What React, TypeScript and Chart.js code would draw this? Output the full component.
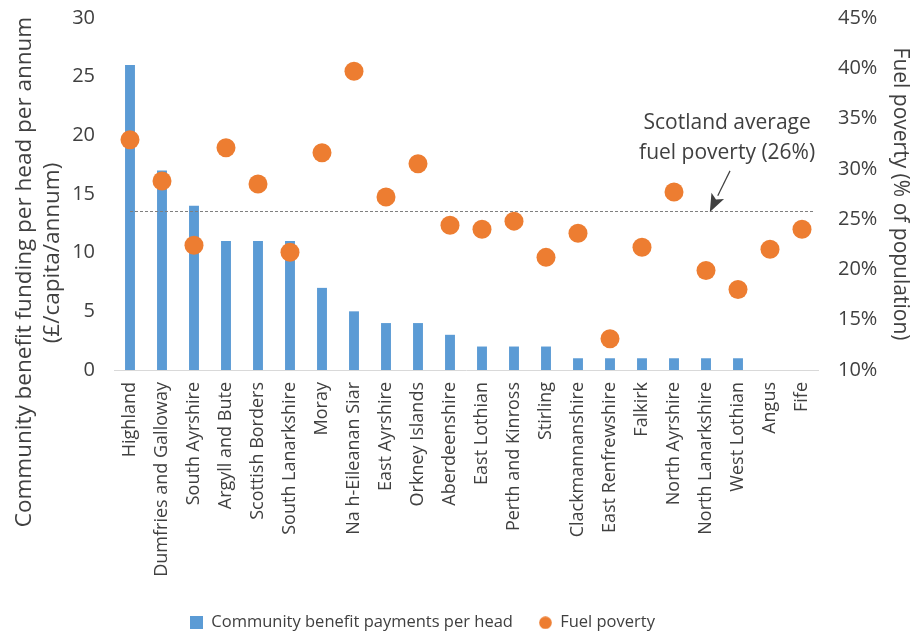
import { useEffect, useRef } from "react";
import { Chart, registerables } from "chart.js";

Chart.register(...registerables);

const categories = [
  "Highland",
  "Dumfries and Galloway",
  "South Ayrshire",
  "Argyll and Bute",
  "Scottish Borders",
  "South Lanarkshire",
  "Moray",
  "Na h-Eileanan Siar",
  "East Ayrshire",
  "Orkney Islands",
  "Aberdeenshire",
  "East Lothian",
  "Perth and Kinross",
  "Stirling",
  "Clackmannanshire",
  "East Renfrewshire",
  "Falkirk",
  "North Ayrshire",
  "North Lanarkshire",
  "West Lothian",
  "Angus",
  "Fife",
];

const benefitPerHead = [26, 17, 14, 11, 11, 11, 7, 5, 4, 4, 3, 2, 2, 2, 1, 1, 1, 1, 1, 1, 0, 0];

const fuelPoverty = [
  32.9, 28.8, 22.4, 32.1, 28.5, 21.7, 31.6, 39.7, 27.2, 30.5, 24.4, 24.0, 24.8, 21.2, 23.6, 13.1,
  22.2, 27.7, 19.9, 18.0, 22.0, 24.0,
];

const leftAxis = { min: 0, max: 30, step: 5 };
const rightAxis = { min: 10, max: 45, step: 5 };

const leftTitle = ["Community benefit funding per head per annum", "(£/capita/annum)"];
const rightTitle = "Fuel poverty (% of population)";

const scotlandAverage = 25.85;
const annotationText = ["Scotland average", "fuel poverty (26%)"];

const BLUE = "#5B9BD5";
const ORANGE = "#ED7D31";
const TEXT = "#404040";
const FONT = '"Open Sans", sans-serif';

function makeIcon(kind: "rect" | "circle", color: string) {
  const c = document.createElement("canvas");
  c.width = 13;
  c.height = 13;
  const g = c.getContext("2d")!;
  g.fillStyle = color;
  if (kind === "rect") {
    g.fillRect(0, 0, 13, 13);
  } else {
    g.beginPath();
    g.arc(6.5, 6.5, 6.3, 0, Math.PI * 2);
    g.fill();
  }
  return c;
}

const leftTitlePlugin = {
  id: "leftTitle",
  afterDraw(chart: any) {
    const { ctx } = chart;
    ctx.save();
    ctx.fillStyle = TEXT;
    ctx.font = `22.5px ${FONT}`;
    ctx.textAlign = "center";
    ctx.textBaseline = "middle";
    const pos = [
      [25, 272],
      [53, 253],
    ];
    leftTitle.forEach((t, i) => {
      ctx.save();
      ctx.translate(pos[i][0], pos[i][1]);
      ctx.rotate(-Math.PI / 2);
      ctx.fillText(t, 0, 0);
      ctx.restore();
    });
    ctx.restore();
  },
};

const legendShiftPlugin = {
  id: "legendShift",
  afterLayout(chart: any) {
    const l = chart.legend;
    if (l) {
      l.left -= 34;
      l.right -= 34;
      l.top += 2;
      l.bottom += 2;
    }
  },
};

const avgPlugin = {
  id: "avgAnnotation",
  afterDatasetsDraw(chart: any) {
    const { ctx, scales } = chart;
    const x = scales.x;
    const y1 = scales.y1;
    const yPix = Math.round(y1.getPixelForValue(scotlandAverage));
    const xStart = x.getPixelForValue(0);
    const xEnd = x.getPixelForValue(categories.length - 1 + 0.4);
    ctx.save();
    ctx.strokeStyle = "#7F7F7F";
    ctx.lineWidth = 1;
    ctx.setLineDash([3, 2]);
    ctx.beginPath();
    ctx.moveTo(xStart, yPix + 0.5);
    ctx.lineTo(xEnd, yPix + 0.5);
    ctx.stroke();
    ctx.setLineDash([]);

    // text
    const tx = x.getPixelForValue(18.66);
    ctx.fillStyle = TEXT;
    ctx.font = `21px ${FONT}`;
    ctx.textAlign = "center";
    ctx.textBaseline = "middle";
    ctx.fillText(annotationText[0], tx, y1.getPixelForValue(34.6));
    ctx.fillText(annotationText[1], tx, y1.getPixelForValue(31.6));

    // arrow
    const ax0 = x.getPixelForValue(18.75);
    const ay0 = y1.getPixelForValue(29.8);
    const ax1 = x.getPixelForValue(18.12);
    const ay1 = yPix + 1;
    const ang = Math.atan2(ay1 - ay0, ax1 - ax0);
    const headLen = 18;
    const headW = 7;
    const bx = ax1 - headLen * Math.cos(ang);
    const by = ay1 - headLen * Math.sin(ang);
    ctx.strokeStyle = "#404040";
    ctx.lineWidth = 1.2;
    ctx.beginPath();
    ctx.moveTo(ax0, ay0);
    ctx.lineTo(bx, by);
    ctx.stroke();
    ctx.fillStyle = "#404040";
    ctx.beginPath();
    ctx.moveTo(ax1, ay1);
    ctx.lineTo(bx + headW * Math.sin(ang), by - headW * Math.cos(ang));
    ctx.lineTo(bx + 4 * Math.cos(ang), by + 4 * Math.sin(ang));
    ctx.lineTo(bx - headW * Math.sin(ang), by + headW * Math.cos(ang));
    ctx.closePath();
    ctx.fill();
    ctx.restore();
  },
};

const noPad = (s: any) => {
  s.paddingTop = 0;
  s.paddingBottom = 0;
};

export default function App() {
  const ref = useRef<HTMLCanvasElement>(null);

  useEffect(() => {
    document.body.style.margin = "0";
    const canvas = ref.current;
    if (!canvas) return;
    const icons = [makeIcon("rect", BLUE), makeIcon("circle", ORANGE)];
    const chart = new Chart(canvas, {
      type: "bar",
      data: {
        labels: categories,
        datasets: [
          {
            type: "bar",
            label: "Community benefit payments per head",
            data: benefitPerHead,
            backgroundColor: BLUE,
            yAxisID: "y",
            barPercentage: 0.31,
            categoryPercentage: 1,
            order: 1,
          } as any,
          {
            type: "line",
            label: "Fuel poverty",
            data: fuelPoverty,
            yAxisID: "y1",
            showLine: false,
            pointRadius: 9.5,
            pointBackgroundColor: ORANGE,
            pointBorderColor: ORANGE,
            pointBorderWidth: 0,
            backgroundColor: ORANGE,
            borderColor: ORANGE,
            pointStyle: "circle",
            order: 0,
          } as any,
        ],
      },
      options: {
        responsive: false,
        animation: false,
        layout: { padding: { top: 18, left: 0, right: 0, bottom: 0 } },
        plugins: {
          tooltip: { enabled: false },
          legend: {
            position: "bottom",
            labels: {
              usePointStyle: true,
              boxHeight: 13,
              boxWidth: 13,
              padding: 26,
              color: TEXT,
              font: { family: FONT, size: 16.5 },
              sort: (a: any, b: any) => a.datasetIndex - b.datasetIndex,
              generateLabels: (ch: any) => {
                const items = (Chart.defaults.plugins.legend.labels as any).generateLabels(ch);
                return items.map((it: any) => ({ ...it, pointStyle: icons[it.datasetIndex] }));
              },
            },
          },
        },
        scales: {
          x: {
            type: "category",
            grid: { display: false, drawTicks: false },
            border: { display: true, color: "#D9D9D9", width: 1 },
            ticks: {
              autoSkip: false,
              minRotation: 90,
              maxRotation: 90,
              padding: 12,
              color: TEXT,
              font: { family: FONT, size: 18 },
            },
            afterFit: (s: any) => {
              s.height = 216.5;
            },
          },
          y: {
            type: "linear",
            position: "left",
            min: leftAxis.min,
            max: leftAxis.max,
            grid: { display: false, drawTicks: false },
            border: { display: false },
            ticks: {
              stepSize: leftAxis.step,
              padding: 19,
              color: TEXT,
              font: { family: FONT, size: 20 },
            },
            afterFit: (s: any) => {
              s.width = 114;
              noPad(s);
            },
          },
          y1: {
            type: "linear",
            position: "right",
            min: rightAxis.min,
            max: rightAxis.max,
            grid: { display: false, drawTicks: false },
            border: { display: false },
            ticks: {
              stepSize: rightAxis.step,
              padding: 20,
              color: TEXT,
              font: { family: FONT, size: 20 },
              callback: (v: any) => `${v}%`,
            },
            title: {
              display: true,
              text: rightTitle,
              color: TEXT,
              font: { family: FONT, size: 21 },
              padding: { top: 0, bottom: 0 },
            },
            afterFit: (s: any) => {
              s.width = 95;
              noPad(s);
            },
          },
        },
      },
      plugins: [avgPlugin, leftTitlePlugin, legendShiftPlugin],
    });
    return () => chart.destroy();
  }, []);

  return (
    <div style={{ width: 913, height: 639 }}>
      <canvas ref={ref} width={913} height={639} />
    </div>
  );
}
